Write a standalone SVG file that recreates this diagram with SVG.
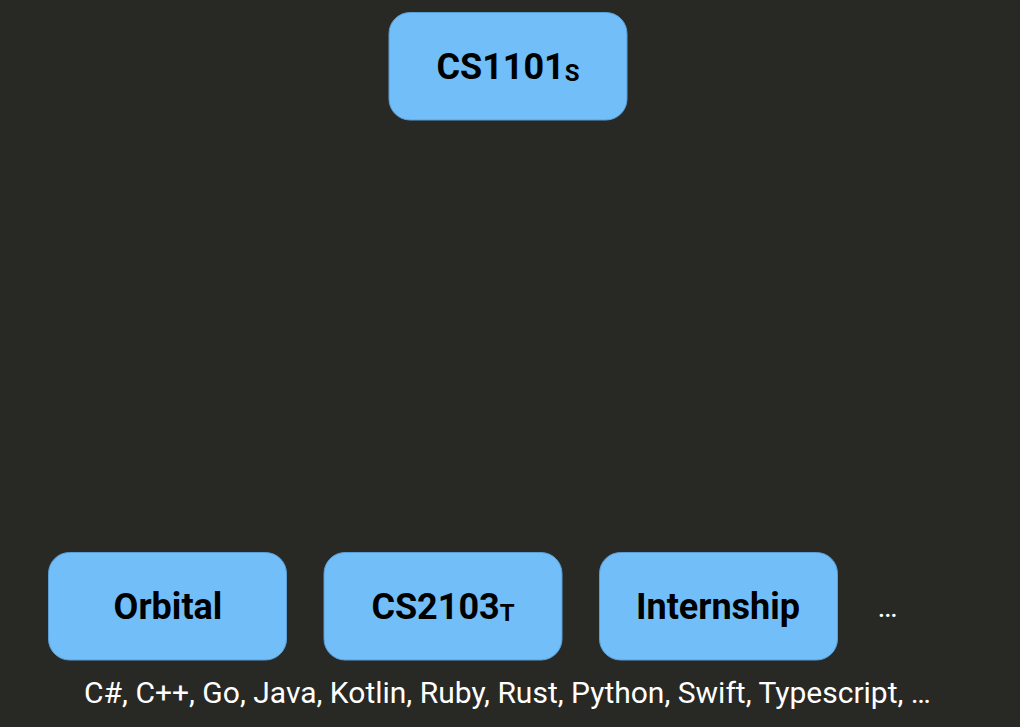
<svg xmlns="http://www.w3.org/2000/svg" width="1020" height="727" viewBox="0 0 1020 727">
<style>
.box{fill:#71bef9;stroke:#5a9ed6;stroke-width:1}
.lbl{font-family:Roboto,"Liberation Sans",sans-serif;font-weight:bold;font-size:36px;fill:#000;text-anchor:middle}
.sub{font-size:24px}
.note{font-family:Roboto,"Liberation Sans",sans-serif;font-size:30px;fill:#fff}
</style>
<rect width="1020" height="727" fill="#282825"/>
<g id="connectors"/>
<g id="cs1101">
<rect class="box" x="389" y="12.500" width="238" height="107.500" rx="21"/>
<text class="lbl" x="508" y="79">CS1101<tspan class="sub" dy="2">S</tspan></text>
</g>
<g id="orbital">
<rect class="box" x="48.500" y="552.500" width="238" height="107.500" rx="21"/>
<text class="lbl" x="168" y="619">Orbital</text>
</g>
<g id="cs2103">
<rect class="box" x="324" y="552.500" width="238" height="107.500" rx="21"/>
<text class="lbl" x="443" y="619">CS2103<tspan class="sub" dy="2">T</tspan></text>
</g>
<g id="internship">
<rect class="box" x="599.500" y="552.500" width="238" height="107.500" rx="21"/>
<text class="lbl" x="718" y="619">Internship</text>
</g>
<g id="more">
<text class="note" x="887.500" y="617" text-anchor="middle" font-size="32">…</text>
</g>
<g id="languages">
<text class="note" x="507.500" y="703" text-anchor="middle">C#, C++, Go, Java, Kotlin, Ruby, Rust, Python, Swift, Typescript, …</text>
</g>
</svg>
